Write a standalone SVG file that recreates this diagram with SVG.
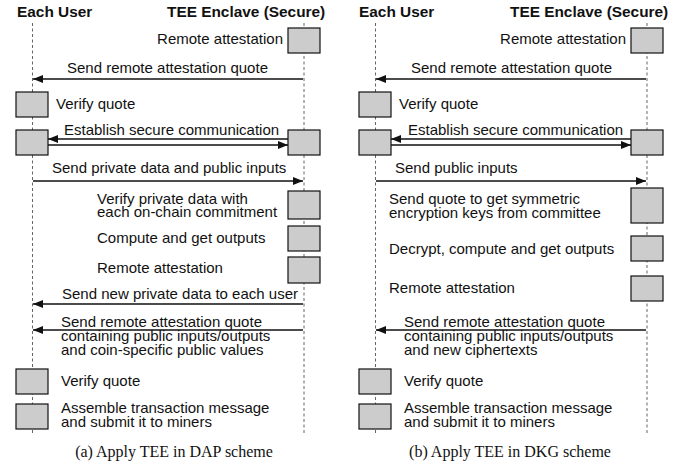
<svg xmlns="http://www.w3.org/2000/svg" width="699" height="466" viewBox="0 0 699 466">
<style>
text{font-family:"Liberation Sans",Arial,sans-serif;font-size:15px;fill:#111}
.hd{font-weight:bold;font-size:15.4px}
.cap{font-family:"Liberation Serif","Times New Roman",serif;font-size:16px;text-anchor:middle}
.end{text-anchor:end}
.life{stroke:#666;stroke-width:1;stroke-dasharray:3 2.5;fill:none}
.box{fill:#cccccc;stroke:#111;stroke-width:1.2}
.msg{stroke:#111;stroke-width:1.3;fill:none;marker-end:url(#ah)}
</style>
<defs>
<marker id="ah" viewBox="0 0 10 8" refX="10" refY="4" markerWidth="10" markerHeight="8" markerUnits="userSpaceOnUse" orient="auto"><path d="M0,0 L10,4 L0,8 z" fill="#111"/></marker>
</defs>
<rect width="699" height="466" fill="#fff"/>

<!-- lifelines -->
<g id="lifelines">
<line class="life" x1="32.5" y1="23" x2="32.5" y2="434"/>
<line class="life" x1="304" y1="23" x2="304" y2="434"/>
<line class="life" x1="375.5" y1="23" x2="375.5" y2="434"/>
<line class="life" x1="647" y1="23" x2="647" y2="434"/>
</g>

<!-- headers -->
<g id="hdrA"><text class="hd" x="17" y="17">Each User</text><text class="hd" x="167" y="17">TEE Enclave (Secure)</text></g>
<g id="hdrB"><text class="hd" x="359" y="17">Each User</text><text class="hd" x="510" y="17">TEE Enclave (Secure)</text></g>

<!-- connectors -->
<g id="connectors">
<line class="msg" x1="303" y1="79" x2="33" y2="79"/>
<line class="msg" x1="288" y1="139" x2="48" y2="139"/>
<line class="msg" x1="48" y1="145" x2="288" y2="145"/>
<line class="msg" x1="33" y1="181" x2="303" y2="181"/>
<line class="msg" x1="303" y1="304" x2="33" y2="304"/>
<line class="msg" x1="303" y1="330" x2="33" y2="330"/>

<line class="msg" x1="646" y1="79" x2="376" y2="79"/>
<line class="msg" x1="631" y1="139" x2="391" y2="139"/>
<line class="msg" x1="391" y1="145" x2="631" y2="145"/>
<line class="msg" x1="376" y1="181" x2="646" y2="181"/>
<line class="msg" x1="646" y1="330" x2="376" y2="330"/>
</g>

<!-- connector labels -->
<g id="msgLabelsA">
<text x="67" y="73">Send remote attestation quote</text>
<text x="64" y="135">Establish secure communication</text>
<text x="52" y="173">Send private data and public inputs</text>
<text x="62" y="299">Send new private data to each user</text>
<text x="61" y="327">Send remote attestation quote</text>
<text x="61" y="341">containing public inputs/outputs</text>
<text x="61" y="355">and coin-specific public values</text>
</g>
<g id="msgLabelsB">
<text x="411" y="73">Send remote attestation quote</text>
<text x="408" y="135">Establish secure communication</text>
<text x="395" y="173">Send public inputs</text>
<text x="404" y="327">Send remote attestation quote</text>
<text x="404" y="341">containing public inputs/outputs</text>
<text x="404" y="355">and new ciphertexts</text>
</g>

<!-- panel A nodes -->
<g id="a_attest1"><rect class="box" x="288" y="28" width="32" height="25"/><text class="end" x="283" y="44">Remote attestation</text></g>
<g id="a_verify1"><rect class="box" x="16" y="92" width="32" height="25"/><text x="56" y="109">Verify quote</text></g>
<g id="a_estU"><rect class="box" x="16" y="130" width="32" height="25"/></g>
<g id="a_estT"><rect class="box" x="288" y="130" width="32" height="25"/></g>
<g id="a_verifyData"><rect class="box" x="288" y="191" width="32" height="28"/><text x="97" y="204">Verify private data with</text><text x="97" y="217">each on-chain commitment</text></g>
<g id="a_compute"><rect class="box" x="288" y="226" width="32" height="25"/><text x="97" y="243">Compute and get outputs</text></g>
<g id="a_attest2"><rect class="box" x="288" y="257" width="32" height="26"/><text x="97" y="273">Remote attestation</text></g>
<g id="a_verify2"><rect class="box" x="16" y="369" width="32" height="25"/><text x="61" y="386">Verify quote</text></g>
<g id="a_assemble"><rect class="box" x="16" y="404" width="32" height="25"/><text x="61" y="413">Assemble transaction message</text><text x="61" y="427">and submit it to miners</text></g>
<g id="a_caption"><text class="cap" x="174" y="457">(a) Apply TEE in DAP scheme</text></g>

<!-- panel B nodes -->
<g id="b_attest1"><rect class="box" x="631" y="28" width="32" height="25"/><text class="end" x="626" y="44">Remote attestation</text></g>
<g id="b_verify1"><rect class="box" x="359" y="92" width="32" height="25"/><text x="399" y="109">Verify quote</text></g>
<g id="b_estU"><rect class="box" x="359" y="130" width="32" height="25"/></g>
<g id="b_estT"><rect class="box" x="631" y="130" width="32" height="25"/></g>
<g id="b_keys"><rect class="box" x="631" y="188" width="32" height="35"/><text x="389" y="204">Send quote to get symmetric</text><text x="389" y="218">encryption keys from committee</text></g>
<g id="b_compute"><rect class="box" x="631" y="236" width="32" height="25"/><text x="389" y="254">Decrypt, compute and get outputs</text></g>
<g id="b_attest2"><rect class="box" x="631" y="276" width="32" height="25"/><text x="389" y="293">Remote attestation</text></g>
<g id="b_verify2"><rect class="box" x="359" y="369" width="32" height="25"/><text x="404" y="386">Verify quote</text></g>
<g id="b_assemble"><rect class="box" x="359" y="404" width="32" height="25"/><text x="404" y="413">Assemble transaction message</text><text x="404" y="427">and submit it to miners</text></g>
<g id="b_caption"><text class="cap" x="510" y="457">(b) Apply TEE in DKG scheme</text></g>
</svg>
